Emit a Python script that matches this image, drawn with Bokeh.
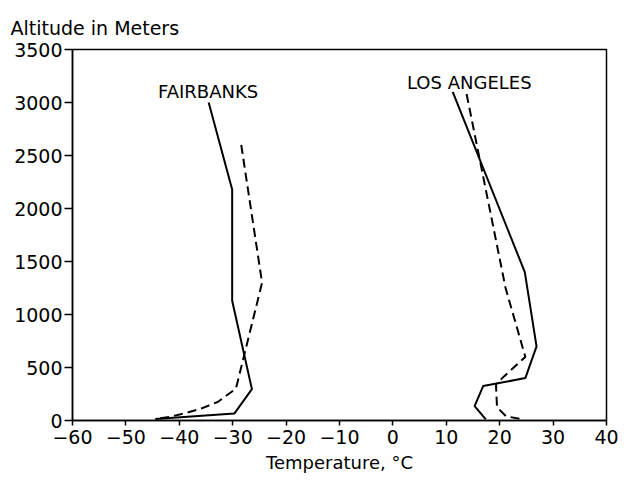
from bokeh.plotting import figure
from bokeh.models import Label, Range1d, FixedTicker, Title
from bokeh.embed import file_html
from bokeh.resources import INLINE

# Data (temperature in °C vs altitude in meters)
fair_solid_t = [-34.5, -30.1, -30.1, -26.4, -29.7, -44.5]
fair_solid_h = [3000, 2180, 1130, 296, 65, 15]
fair_dash_t = [-28.4, -24.5, -29.4, -32.8, -35.8, -38.8, -41.9, -44.5]
fair_dash_h = [2600, 1300, 300, 175, 115, 70, 33, 15]

la_solid_t = [11.2, 24.7, 26.9, 24.8, 16.9, 15.3, 17.4]
la_solid_h = [3100, 1400, 700, 400, 325, 135, 10]
la_dash_t = [13.8, 21.1, 24.8, 20.8, 19.3, 19.5, 21.2, 23.8]
la_dash_h = [3080, 1250, 600, 416, 341, 125, 40, 15]

x_ticks = [-60, -50, -40, -30, -20, -10, 0, 10, 20, 30, 40]
y_ticks = [0, 500, 1000, 1500, 2000, 2500, 3000, 3500]

FONT = "DejaVu Sans"

p = figure(width=622, height=477, output_backend="svg", toolbar_location=None,
           x_range=Range1d(-60, 40), y_range=Range1d(0, 3500),
           min_border_left=72, min_border_right=16, min_border_top=49, min_border_bottom=57)
p.grid.visible = False
p.outline_line_color = "black"
p.outline_line_width = 1.5
p.background_fill_color = "white"
p.border_fill_color = "white"

p.add_layout(Title(text="Altitude in Meters", align="left", offset=-62, standoff=22,
                   text_font=FONT, text_font_size="19px", text_font_style="normal",
                   text_color="black"), "above")

for ax in (p.xaxis[0], p.yaxis[0]):
    ax.axis_line_color = "black"
    ax.axis_line_width = 1.5
    ax.major_tick_line_color = "black"
    ax.major_tick_line_width = 1.5
    ax.major_tick_in = 0
    ax.minor_tick_line_color = None
    ax.major_label_text_font = FONT
    ax.major_label_text_font_size = "19px"
    ax.major_label_text_color = "black"

p.xaxis.ticker = FixedTicker(ticks=x_ticks)
p.yaxis.ticker = FixedTicker(ticks=y_ticks)
p.xaxis.major_tick_out = 5
p.xaxis.major_label_standoff = 4
p.xaxis.axis_label = "Temperature, °C"
p.xaxis.axis_label_standoff = 5
p.xaxis.axis_label_text_font = FONT
p.xaxis.axis_label_text_font_size = "18px"
p.xaxis.axis_label_text_font_style = "normal"
p.xaxis.axis_label_text_color = "black"
p.yaxis.major_tick_out = 8
p.yaxis.major_label_standoff = 2

p.line(fair_solid_t, fair_solid_h, line_color="black", line_width=2)
p.line(fair_dash_t, fair_dash_h, line_color="black", line_width=2, line_dash="9 5")
p.line(la_solid_t, la_solid_h, line_color="black", line_width=2)
p.line(la_dash_t, la_dash_h, line_color="black", line_width=2, line_dash="9 5")

p.add_layout(Label(x=-34.6, y=3100, text="FAIRBANKS", text_font=FONT, text_font_size="18px",
                   text_align="center", text_baseline="alphabetic", text_color="black"))
p.add_layout(Label(x=14.3, y=3190, text="LOS ANGELES", text_font=FONT, text_font_size="18px",
                   text_align="center", text_baseline="alphabetic", text_color="black"))

open("out.html", "w").write(file_html(p, INLINE))
